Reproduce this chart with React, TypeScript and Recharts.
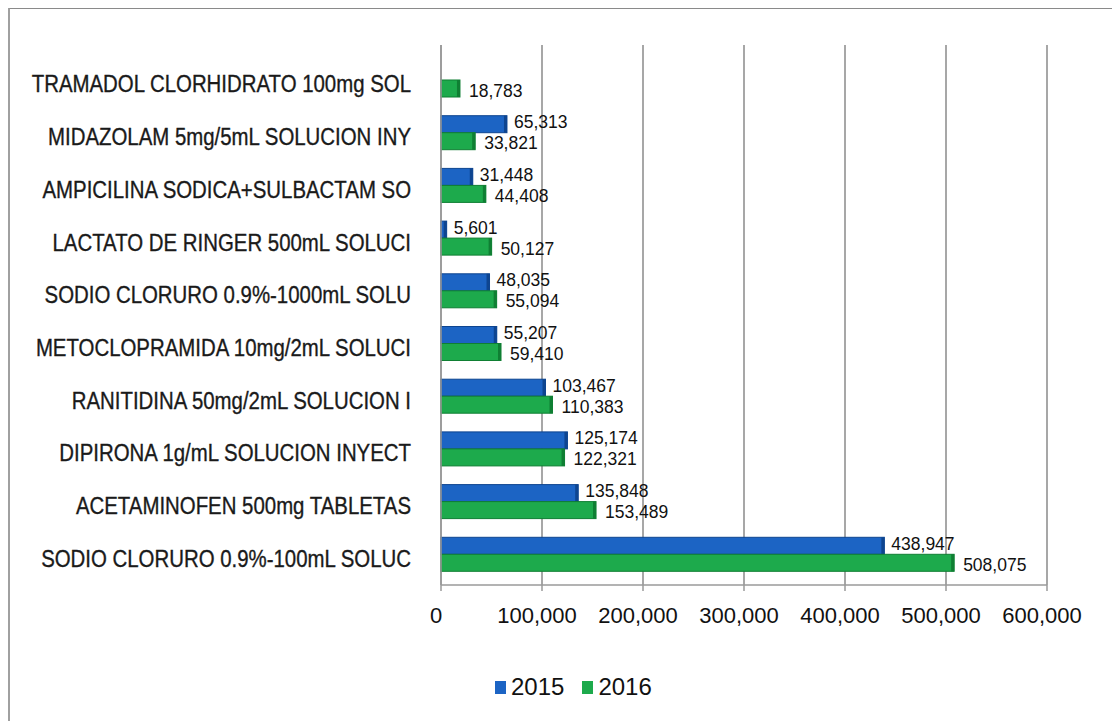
import React from 'react';
import { BarChart, Bar, XAxis, YAxis, CartesianGrid, LabelList, Legend } from 'recharts';

const categories = [
  'TRAMADOL CLORHIDRATO 100mg SOL',
  'MIDAZOLAM 5mg/5mL SOLUCION INY',
  'AMPICILINA SODICA+SULBACTAM SO',
  'LACTATO DE RINGER 500mL SOLUCI',
  'SODIO CLORURO 0.9%-1000mL SOLU',
  'METOCLOPRAMIDA 10mg/2mL SOLUCI',
  'RANITIDINA 50mg/2mL SOLUCION I',
  'DIPIRONA 1g/mL SOLUCION INYECT',
  'ACETAMINOFEN 500mg TABLETAS',
  'SODIO CLORURO 0.9%-100mL SOLUC',
];
const values2015: (number | null)[] = [null, 65313, 31448, 5601, 48035, 55207, 103467, 125174, 135848, 438947];
const values2016: number[] = [18783, 33821, 44408, 50127, 55094, 59410, 110383, 122321, 153489, 508075];
const xTicks = [0, 100000, 200000, 300000, 400000, 500000, 600000];
const seriesNames = ['2015', '2016'];

const data = categories.map((c, i) => ({ name: c, v2015: values2015[i], v2016: values2016[i] }));

const BLUE = '#1c64c4';
const BLUE_DARK = '#0e4590';
const GREEN = '#1daa4c';
const GREEN_DARK = '#0f7f33';
const SHIFT = -4;
const FONT = "'Liberation Sans', Arial, sans-serif";

const fmt = (v: any) => (v === null || v === undefined ? '' : Number(v).toLocaleString('en-US'));

const makeShape = (fill: string, dark: string) => (props: any) => {
  const { x, y, width, height } = props;
  if (!width || width <= 0) return <g />;
  const yy = y + SHIFT;
  return (
    <g>
      <rect x={x} y={yy} width={width} height={height} fill={fill} stroke={dark} strokeWidth={1} />
      <rect x={x + width - 3} y={yy} width={3} height={height} fill={dark} />
    </g>
  );
};

const makeLabel = (dx: number, dy: number) => (props: any) => {
  const { x, y, width, height, value } = props;
  if (value === null || value === undefined) return null;
  return (
    <text
      x={x + width + dx}
      y={y + height / 2 + SHIFT + dy}
      dominantBaseline="central"
      fill="#111"
      fontSize={17.5}
      fontFamily={FONT}
    >
      {fmt(value)}
    </text>
  );
};

const YTick = (props: any) => {
  const { x, y, payload } = props;
  return (
    <g transform={`translate(${x},${y}) scale(0.85,1)`}>
      <text
        x={0}
        y={0}
        textAnchor="end"
        dominantBaseline="central"
        fill="#1a1a1a"
        fontSize={24}
        fontFamily={FONT}
        stroke="#1a1a1a"
        strokeWidth={0.35}
      >
        {payload.value}
      </text>
    </g>
  );
};

const XTick = (props: any) => {
  const { x, y, payload } = props;
  return (
    <text x={x - 5} y={y} dy="0.71em" textAnchor="middle" fill="#111" fontSize={22} fontFamily={FONT}>
      {fmt(payload.value)}
    </text>
  );
};

const LegendContent = () => (
  <div style={{ display: 'flex', alignItems: 'center', fontFamily: FONT, fontSize: 24, color: '#111', lineHeight: '28px' }}>
    <span style={{ display: 'inline-block', width: 11, height: 13, background: BLUE, marginRight: 5 }} />
    <span style={{ marginRight: 18 }}>{seriesNames[0]}</span>
    <span style={{ display: 'inline-block', width: 11, height: 13, background: GREEN, marginRight: 5 }} />
    <span>{seriesNames[1]}</span>
  </div>
);

export default function App() {
  return (
    <div
      style={{
        position: 'relative',
        top: -1,
        width: 1112,
        height: 714,
        borderTop: '2px solid #8a8a8a',
        borderLeft: '2px solid #a0a0a0',
        boxSizing: 'border-box',
        background: '#fff',
      }}
    >
      <BarChart
        width={1100}
        height={705}
        data={data}
        layout="vertical"
        margin={{ top: 36, right: 63, bottom: 79, left: 0 }}
        barSize={17}
        barGap={0}
      >
        <CartesianGrid horizontal={false} vertical={true} stroke="#8a8a8a" strokeWidth={1.5} />
        <XAxis
          type="number"
          domain={[0, 600000]}
          ticks={xTicks}
          tickFormatter={fmt}
          height={50}
          axisLine={{ stroke: '#9a9a9a', strokeWidth: 1.5 }}
          tickLine={{ stroke: '#9a9a9a', strokeWidth: 1.5 }}
          tickSize={6}
          tickMargin={16}
          tick={<XTick />}
          interval={0}
        />
        <YAxis
          type="category"
          dataKey="name"
          width={431}
          padding={{ top: 13, bottom: 0 }}
          axisLine={{ stroke: '#9a9a9a', strokeWidth: 1.5 }}
          tickLine={false}
          tickMargin={24}
          interval={0}
          tick={<YTick />}
        />
        <Legend
          layout="vertical"
          align="center"
          verticalAlign="middle"
          wrapperStyle={{ top: 664, left: 485, width: 'auto' }}
          content={<LegendContent />}
        />
        <Bar dataKey="v2015" name={seriesNames[0]} fill={BLUE} isAnimationActive={false} shape={makeShape(BLUE, BLUE_DARK)}>
          <LabelList dataKey="v2015" content={makeLabel(7, -2)} />
        </Bar>
        <Bar dataKey="v2016" name={seriesNames[1]} fill={GREEN} isAnimationActive={false} shape={makeShape(GREEN, GREEN_DARK)}>
          <LabelList dataKey="v2016" content={makeLabel(9, 2)} />
        </Bar>
      </BarChart>
    </div>
  );
}
